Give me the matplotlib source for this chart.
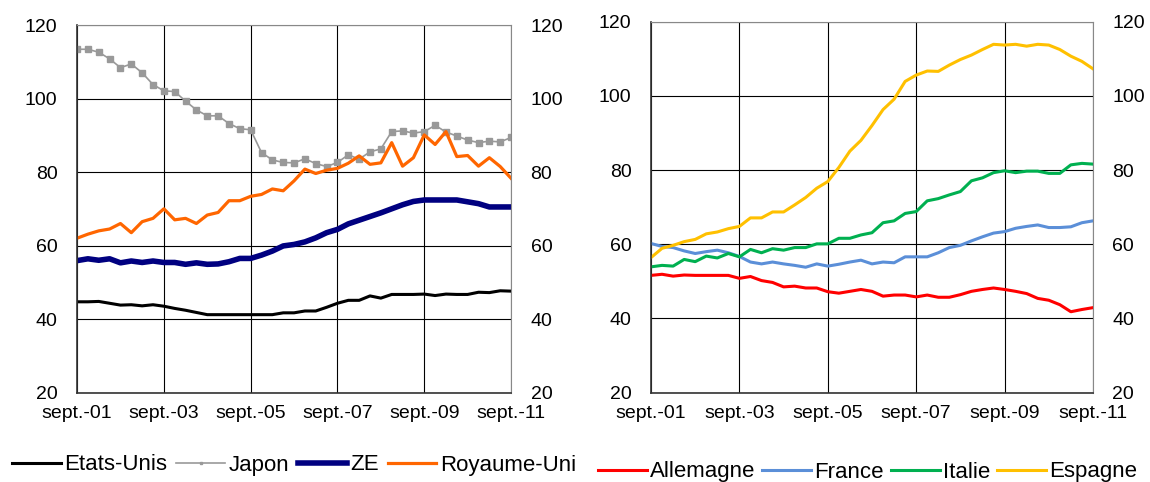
import matplotlib.pyplot as plt
import numpy as np

plt.rcParams['font.family'] = ['Liberation Sans', 'DejaVu Sans']

# quarterly, sept.-01 .. sept.-11
n_quarters = 41
tick_labels = ['sept.-01', 'sept.-03', 'sept.-05', 'sept.-07', 'sept.-09', 'sept.-11']

etats_unis = [44.7, 44.7, 44.8, 44.3, 43.8, 43.9, 43.6, 43.9, 43.5, 42.9,
              42.4, 41.8, 41.2, 41.2, 41.2, 41.2, 41.2, 41.2, 41.2, 41.7,
              41.7, 42.2, 42.2, 43.2, 44.3, 45.1, 45.1, 46.3, 45.7, 46.7,
              46.7, 46.7, 46.8, 46.4, 46.8, 46.7, 46.7, 47.3, 47.2, 47.7, 47.6]
japon = [113.4, 113.4, 112.6, 110.8, 108.4, 109.4, 107.0, 103.8, 102.1, 101.9,
         99.3, 96.9, 95.3, 95.3, 93.2, 91.8, 91.5, 85.3, 83.3, 82.6,
         82.5, 83.6, 82.3, 81.5, 82.6, 84.7, 83.5, 85.5, 86.3, 91.0,
         91.2, 90.6, 91.0, 92.7, 90.9, 89.8, 88.7, 88.0, 88.4, 88.2, 89.4]
ze = [55.9, 56.4, 56.0, 56.4, 55.3, 55.8, 55.4, 55.8, 55.4, 55.4,
      54.9, 55.3, 54.9, 55.0, 55.6, 56.5, 56.5, 57.4, 58.5, 59.9,
      60.3, 61.0, 62.1, 63.5, 64.4, 65.9, 66.9, 67.9, 68.9, 70.0,
      71.1, 72.0, 72.4, 72.4, 72.4, 72.4, 71.9, 71.4, 70.5, 70.5, 70.5]
royaume_uni = [62.0, 63.1, 64.0, 64.5, 66.0, 63.5, 66.5, 67.4, 70.0, 67.0,
               67.4, 66.0, 68.3, 69.0, 72.2, 72.2, 73.4, 73.9, 75.4, 74.9,
               77.6, 80.8, 79.6, 80.5, 81.0, 82.4, 84.4, 82.1, 82.5, 88.0,
               81.6, 83.9, 90.1, 87.5, 91.0, 84.2, 84.5, 81.6, 83.9, 81.5, 78.3]

allemagne = [51.6, 51.9, 51.4, 51.7, 51.6, 51.6, 51.6, 51.6, 50.8, 51.3,
             50.2, 49.7, 48.5, 48.7, 48.2, 48.2, 47.2, 46.8, 47.3, 47.8,
             47.3, 46.0, 46.3, 46.3, 45.8, 46.3, 45.7, 45.7, 46.4, 47.3,
             47.8, 48.2, 47.8, 47.3, 46.7, 45.4, 44.9, 43.7, 41.8, 42.4, 42.9]
france = [60.2, 59.4, 59.1, 58.2, 57.5, 58.0, 58.4, 57.7, 56.7, 55.2,
          54.7, 55.2, 54.7, 54.3, 53.8, 54.7, 54.1, 54.6, 55.2, 55.7,
          54.7, 55.2, 55.0, 56.6, 56.6, 56.6, 57.7, 59.1, 59.7, 60.9,
          62.0, 63.0, 63.4, 64.3, 64.8, 65.2, 64.5, 64.5, 64.7, 65.8, 66.3]
italie = [53.9, 54.3, 54.1, 55.9, 55.3, 56.8, 56.3, 57.5, 56.6, 58.6,
          57.7, 58.8, 58.4, 59.1, 59.1, 60.1, 60.1, 61.6, 61.6, 62.5,
          63.1, 65.8, 66.3, 68.3, 68.8, 71.7, 72.3, 73.3, 74.2, 77.1,
          77.9, 79.3, 79.8, 79.3, 79.7, 79.7, 79.1, 79.1, 81.4, 81.8, 81.6]
espagne = [56.4, 58.9, 59.7, 60.7, 61.3, 62.8, 63.3, 64.2, 64.8, 67.1,
           67.1, 68.7, 68.7, 70.6, 72.6, 75.1, 76.9, 80.7, 85.1, 88.0,
           92.0, 96.3, 99.1, 103.9, 105.6, 106.7, 106.6, 108.3, 109.8, 111.0,
           112.5, 113.9, 113.7, 113.9, 113.4, 113.9, 113.7, 112.5, 110.7, 109.3, 107.3]

x = np.arange(n_quarters)


def style_axes(ax):
    ax.set_xlim(0, n_quarters - 1)
    ax.set_ylim(20, 120)
    ax.set_yticks(range(20, 121, 20))
    ax.set_xticks(range(0, n_quarters, 8))
    ax.set_xticklabels(tick_labels)
    ax.grid(True, color='black', lw=0.8)
    ax.set_axisbelow(True)
    ax.tick_params(axis='y', length=0, pad=14, labelsize=14,
                   labelleft=True, labelright=True)
    ax.tick_params(axis='x', length=0, pad=9, labelsize=14)
    for side in ['top', 'right']:
        ax.spines[side].set_color('#888888')
    for side in ['left', 'bottom']:
        ax.spines[side].set_color('#333333')
        ax.spines[side].set_linewidth(1.2)


fig = plt.figure(figsize=(11.5, 4.82), dpi=100)
ax1 = fig.add_axes([0.067, 0.1855, 0.3774, 0.7626])
ax2 = fig.add_axes([0.5661, 0.1855, 0.3843, 0.7695])

ax1.plot(x, etats_unis, color='black', lw=2.2, label='Etats-Unis')
ax1.plot(x, japon, color='#999999', lw=1.2, marker='s', ms=4.5, label='Japon')
ax1.plot(x, ze, color='#000080', lw=4.0, label='ZE')
ax1.plot(x, royaume_uni, color='#FF6600', lw=2.3, label='Royaume-Uni')
style_axes(ax1)

ax2.plot(x, allemagne, color='#FF0000', lw=2.2, label='Allemagne')
ax2.plot(x, france, color='#5B8FD8', lw=2.2, label='France')
ax2.plot(x, italie, color='#00B050', lw=2.2, label='Italie')
ax2.plot(x, espagne, color='#FFC000', lw=2.2, label='Espagne')
style_axes(ax2)

h1, l1 = ax1.get_legend_handles_labels()
fig.legend(h1, l1, loc='center left', bbox_to_anchor=(12 / 1150, 1 - 465 / 482),
           ncol=4, frameon=False, fontsize=16, handlelength=2.2,
           handletextpad=0.15, columnspacing=0.4, borderpad=0, borderaxespad=0,
           markerscale=0.4)
h2, l2 = ax2.get_legend_handles_labels()
fig.legend(h2, l2, loc='center left', bbox_to_anchor=(598 / 1150, 1 - 472 / 482),
           ncol=4, frameon=False, fontsize=16, handlelength=2.2,
           handletextpad=0.15, columnspacing=0.3, borderpad=0, borderaxespad=0)

fig.savefig('out.png', dpi=100)
